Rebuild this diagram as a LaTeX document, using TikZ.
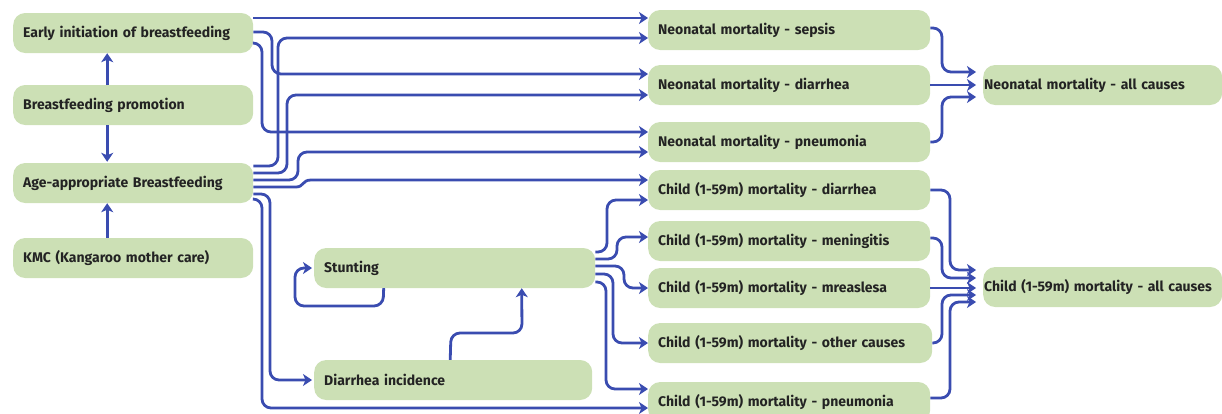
\documentclass[tikz,border=0pt]{standalone}
\usepackage{fontspec}
\setmainfont{Fira Sans}
\usetikzlibrary{arrows.meta}
\definecolor{boxgreen}{HTML}{CCE0B5}
\definecolor{linkblue}{HTML}{3A4CB0}
\definecolor{txtgray}{HTML}{232323}
\tikzset{
  box/.style={fill=boxgreen, rounded corners=12pt, inner xsep=10pt, inner ysep=0pt,
    minimum height=40pt, anchor=west, align=left, text=txtgray,
    font=\bfseries\fontsize{14}{16}\selectfont},
  wide/.style={text width=#1},
  endbox/.style={box, inner xsep=1pt},
  arr/.style={draw=linkblue, line width=2.8pt, rounded corners=9pt,
    -{Stealth[length=9pt,width=12pt,inset=2.5pt]}},
}
\begin{document}
\begin{tikzpicture}[x=1pt,y=-1pt]
\useasboundingbox (0,0) rectangle (1222,413);
\clip (0,0) rectangle (1222,413);
% left column
\node[box, wide=220pt] (early) at (13,33) {Early initiation of breastfeeding};
\node[box, wide=220pt] (promo) at (13,105) {Breastfeeding promotion};
\node[box, wide=220pt] (age) at (13,183) {Age-appropriate Breastfeeding};
\node[box, wide=220pt] (kmc) at (13,258) {KMC (Kangaroo mother care)};
% middle
\node[box, wide=261pt] (stunt) at (314,268) {Stunting};
\node[box, wide=258pt] (dinc) at (314,380) {Diarrhea incidence};
% right column
\node[box, wide=262pt] (ns) at (648,30) {Neonatal mortality - sepsis};
\node[box, wide=262pt] (nd) at (648,85) {Neonatal mortality - diarrhea};
\node[box, wide=262pt] (np) at (648,142) {Neonatal mortality - pneumonia};
\node[box, wide=262pt] (cd) at (648,190) {Child (1-59m) mortality - diarrhea};
\node[box, wide=262pt] (cm) at (648,241) {Child (1-59m) mortality - meningitis};
\node[box, wide=262pt] (cme) at (648,288) {Child (1-59m) mortality - mreaslesa};
\node[box, wide=264pt] (co) at (648,343) {Child (1-59m) mortality - other causes};
\node[box, wide=262pt] (cp) at (648,402) {Child (1-59m) mortality - pneumonia};
% outcomes
\node[endbox, wide=237pt] (nall) at (983,85) {Neonatal mortality - all causes};
\node[endbox, wide=237pt] (call) at (983,287) {Child (1-59m) mortality - all causes};

% left vertical arrows
\draw[arr] ([xshift=-26pt]promo.north) -- ([xshift=-26pt]early.south);
\draw[arr] ([xshift=-26pt]promo.south) -- ([xshift=-26pt,yshift=1pt]age.north);
\draw[arr] ([xshift=-26pt]kmc.north) -- ([xshift=-26pt]age.south);

% early initiation
\draw[arr] ([yshift=15pt]early.east) -- ([yshift=12pt]ns.west);
\draw[arr] ([yshift=1pt]early.east) -- (272,32) -- (272,74) -- ([yshift=11pt]nd.west);
\draw[arr] ([yshift=-10pt]early.east) -- (262,43) -- (262,132) -- ([yshift=10pt]np.west);

% age-appropriate
\draw[arr] ([yshift=17pt]age.east) -- (278,166) -- (278,38) -- ([yshift=-8pt]ns.west);
\draw[arr] ([yshift=10pt]age.east) -- (287,173) -- (287,95) -- ([yshift=-10pt]nd.west);
\draw[arr] ([yshift=3pt]age.east) -- (298,180) -- (298,152) -- ([yshift=-10pt]np.west);
\draw[arr, rounded corners=0pt] ([yshift=-4pt]age.east) -- (296,187) .. controls (304,187) and (302,180) .. (311,180) -- ([yshift=10pt]cd.west);
\draw[arr] ([yshift=-11pt]age.east) -- (270,194) -- (270,380) -- ([xshift=-2pt]dinc.west);
\draw[arr] ([yshift=-16pt]age.east) -- (262,199) -- (262,408) -- ([yshift=-6pt]cp.west);

% stunting loop and diarrhea -> stunting
\draw[arr] ([xshift=-71pt]stunt.south) -- (383,306) -- (295,306) -- (295,268) -- ([xshift=-2pt]stunt.west);
\draw[arr] ([xshift=-3pt]dinc.north) -- (451,333) -- (522,333) -- ([xshift=67pt]stunt.south);

% stunting outputs
\draw[arr] ([yshift=16pt]stunt.east) -- (607,252) -- (607,200) -- ([yshift=-10pt]cd.west);
\draw[arr] ([yshift=9pt]stunt.east) -- (617,259) -- (617,237) -- ([yshift=4pt]cm.west);
\draw[arr] ([yshift=2pt]stunt.east) -- (624,266) -- (624,288) -- (cme.west);
\draw[arr] ([yshift=-6pt]stunt.east) -- (613,274) -- (613,343) -- (co.west);
\draw[arr] ([yshift=-14pt]stunt.east) -- (606,282) -- (606,389) -- ([yshift=13pt]cp.west);

% neonatal to all causes
\draw[arr] ([yshift=2pt]ns.east) -- (942,28) -- (942,72) -- ([xshift=-7pt,yshift=13pt]nall.west);
\draw[arr] (nd.east) -- ([xshift=-7pt]nall.west);
\draw[arr] (np.east) -- (942,142) -- (942,97) -- ([xshift=-7pt,yshift=-12pt]nall.west);

% child to all causes
\draw[arr] (cd.east) -- (950,190) -- (950,270) -- ([xshift=-7pt,yshift=17pt]call.west);
\draw[arr] ([yshift=3pt]cm.east) -- (942,238) -- (942,278) -- ([xshift=-7pt,yshift=9pt]call.west);
\draw[arr] (cme.east) -- ([xshift=-7pt,yshift=-1pt]call.west);
\draw[arr] (co.east) -- (942,343) -- (942,295) -- ([xshift=-7pt,yshift=-8pt]call.west);
\draw[arr] ([yshift=4pt]cp.east) -- (950,398) -- (950,302) -- ([xshift=-7pt,yshift=-15pt]call.west);
\end{tikzpicture}
\end{document}
